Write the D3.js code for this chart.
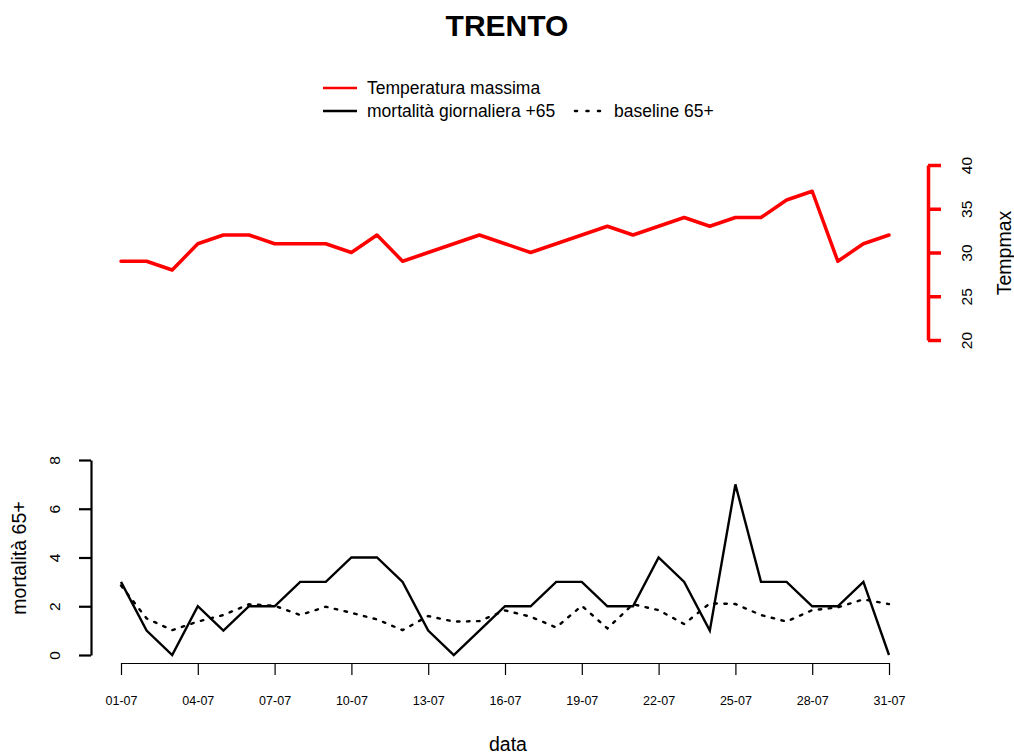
<!DOCTYPE html>
<html>
<head>
<meta charset="utf-8">
<script src="https://cdn.jsdelivr.net/npm/d3@7"></script>
<style>
  html, body { margin: 0; padding: 0; background: #fff; }
  svg { display: block; font-family: "Liberation Sans", Arial, sans-serif; }
</style>
</head>
<body>
<svg id="chart" width="1014" height="756"></svg>
<script>
// Daily data for July, Trento
const days = ["01-07","02-07","03-07","04-07","05-07","06-07","07-07","08-07","09-07","10-07",
              "11-07","12-07","13-07","14-07","15-07","16-07","17-07","18-07","19-07","20-07",
              "21-07","22-07","23-07","24-07","25-07","26-07","27-07","28-07","29-07","30-07","31-07"];
const tempMax = [29,29,28,31,32,32,31,31,31,30,32,29,30,31,32,31,30,31,32,33,32,33,34,33,34,34,36,37,29,31,32];
const mortality = [3,1,0,2,1,2,2,3,3,4,4,3,1,0,1,2,2,3,3,2,2,4,3,1,7,3,3,2,2,3,0];
const baseline = [2.85,1.5,1.02,1.37,1.64,2.08,2.02,1.64,1.98,1.73,1.46,1.02,1.6,1.37,1.39,1.83,
                  1.57,1.13,2.02,1.09,2.08,1.84,1.27,2.12,2.09,1.64,1.37,1.84,1.95,2.28,2.09];
const xTickLabels = ["01-07","04-07","07-07","10-07","13-07","16-07","19-07","22-07","25-07","28-07","31-07"];
const tempTicks = [20,25,30,35,40];
const mortTicks = [0,2,4,6,8];

const svg = d3.select("#chart");
const idx = days.map((d, i) => i);

const x = d3.scaleLinear().domain([0, days.length - 1]).range([121, 889]);
const yTemp = d3.scaleLinear().domain([20, 40]).range([340, 165]);
const yMort = d3.scaleLinear().domain([0, 8]).range([655, 460]);

// Title
svg.append("text").attr("x", 507).attr("y", 36).attr("text-anchor", "middle")
  .attr("font-size", 30).attr("font-weight", "bold").text("TRENTO");

// Legend
const legendSize = 17.5;
const legend = svg.append("g");
legend.append("line").attr("x1", 323).attr("x2", 357).attr("y1", 88).attr("y2", 88)
  .attr("stroke", "#ff0000").attr("stroke-width", 2.5);
legend.append("text").attr("x", 367).attr("y", 94).attr("font-size", legendSize).text("Temperatura massima");
legend.append("line").attr("x1", 323).attr("x2", 357).attr("y1", 111).attr("y2", 111)
  .attr("stroke", "#000").attr("stroke-width", 2.5);
legend.append("text").attr("x", 367).attr("y", 117).attr("font-size", legendSize).text("mortalità giornaliera +65");
legend.append("line").attr("x1", 575).attr("x2", 603).attr("y1", 111).attr("y2", 111)
  .attr("stroke", "#000").attr("stroke-width", 2.5).attr("stroke-linecap", "round")
  .attr("stroke-dasharray", "2,9.5");
legend.append("text").attr("x", 614).attr("y", 117).attr("font-size", legendSize).text("baseline 65+");

// Temperature line (top panel)
const tempLine = d3.line().x(i => x(i)).y(i => yTemp(tempMax[i]));
svg.append("path").datum(idx).attr("d", tempLine)
  .attr("fill", "none").attr("stroke", "#ff0000").attr("stroke-width", 3.5)
  .attr("stroke-linejoin", "round").attr("stroke-linecap", "round");

// Right axis for temperature
const rAxis = svg.append("g").attr("transform", "translate(928,0)")
  .call(d3.axisRight(yTemp).tickValues(tempTicks).tickSize(13).tickSizeOuter(0).tickFormat(d3.format("d")));
rAxis.select(".domain").attr("stroke", "#ff0000").attr("stroke-width", 3.5);
rAxis.selectAll(".tick line").attr("stroke", "#ff0000").attr("stroke-width", 3.5);
rAxis.selectAll(".tick text")
  .attr("font-size", 15.5).attr("fill", "#000").attr("text-anchor", "middle")
  .attr("x", 0).attr("dy", 0)
  .attr("transform", "translate(40,0) rotate(-90)")
  .attr("dominant-baseline", "middle");
svg.append("text").attr("transform", "translate(1011,253) rotate(-90)")
  .attr("text-anchor", "middle").attr("font-size", 19.5).text("Tempmax");

// Mortality lines (bottom panel)
const mortLine = d3.line().x(i => x(i)).y(i => yMort(mortality[i]));
svg.append("path").datum(idx).attr("d", mortLine)
  .attr("fill", "none").attr("stroke", "#000").attr("stroke-width", 2.4)
  .attr("stroke-linejoin", "miter");
const baseLine = d3.line().x(i => x(i)).y(i => yMort(baseline[i]));
svg.append("path").datum(idx).attr("d", baseLine)
  .attr("fill", "none").attr("stroke", "#000").attr("stroke-width", 2.4)
  .attr("stroke-linecap", "round").attr("stroke-dasharray", "2.5,7.5");

// Left axis for mortality
const lAxis = svg.append("g").attr("transform", "translate(91,0)")
  .call(d3.axisLeft(yMort).tickValues(mortTicks).tickSize(12).tickSizeOuter(0).tickFormat(d3.format("d")));
lAxis.select(".domain").attr("stroke-width", 2.2);
lAxis.selectAll(".tick line").attr("stroke-width", 2.2);
lAxis.selectAll(".tick text")
  .attr("font-size", 15.5).attr("text-anchor", "middle")
  .attr("x", 0).attr("dy", 0)
  .attr("transform", "translate(-35,0) rotate(-90)")
  .attr("dominant-baseline", "middle");
svg.append("text").attr("transform", "translate(26,558) rotate(-90)")
  .attr("text-anchor", "middle").attr("font-size", 19.5).text("mortalità 65+");

// Date axis
const xTickIdx = xTickLabels.map(l => days.indexOf(l));
const bAxis = svg.append("g").attr("transform", "translate(0,663)")
  .call(d3.axisBottom(x).tickValues(xTickIdx).tickSize(12).tickSizeOuter(0)
    .tickFormat(i => days[i]));
bAxis.select(".domain").attr("stroke-width", 1.2);
bAxis.selectAll(".tick line").attr("stroke-width", 1.2);
bAxis.selectAll(".tick text").attr("font-size", 13).attr("y", 42).attr("dy", 0)
  .attr("textLength", 32).attr("lengthAdjust", "spacingAndGlyphs");
svg.append("text").attr("x", 508).attr("y", 751).attr("text-anchor", "middle")
  .attr("font-size", 19.5).text("data");
</script>
</body>
</html>
